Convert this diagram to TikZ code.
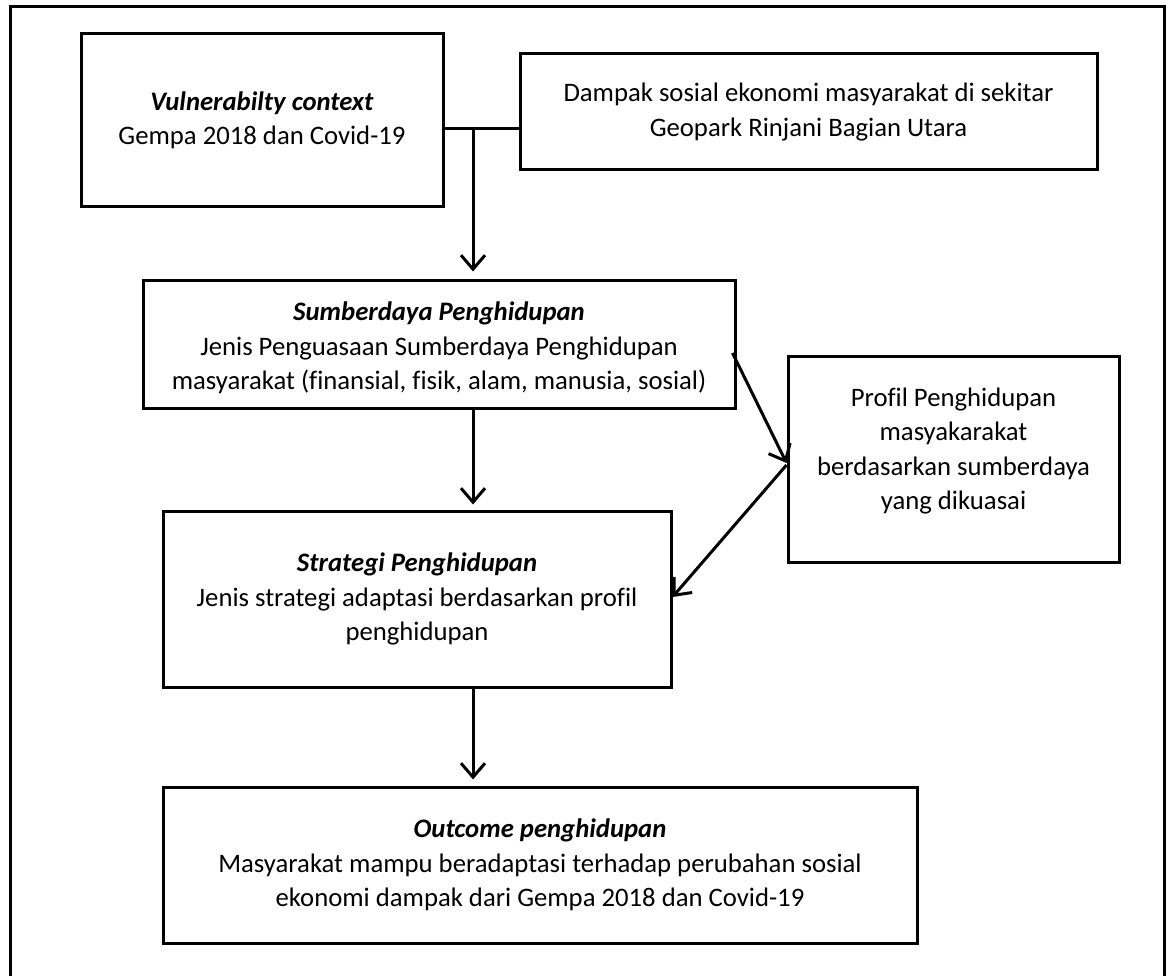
\documentclass[tikz,border=0pt]{standalone}
\usepackage{fontspec}
\setmainfont{Carlito}[Ligatures={NoCommon}]
\usetikzlibrary{arrows.meta}
\begin{document}
\begin{tikzpicture}[x=1pt,y=-1pt,
  box/.style={draw,line width=3pt,inner sep=0pt},
  txt/.style={align=center,inner sep=0pt,font=\fontsize{26.7}{34.5}\selectfont},
  arr/.style={line width=3pt,-{Straight Barb[length=14pt,width=24pt,line width=3pt]}},
  conn/.style={line width=3pt}]
\useasboundingbox (0,0) rectangle (1166,976);
\draw[line width=3pt] (10,976) -- (10,7) -- (1164,7) -- (1164,976);
\node[box,minimum width=362pt,minimum height=173pt] (b1) at (262,120.5) {};
\node[box,minimum width=577pt,minimum height=116pt] (b2) at (808.5,112) {};
\node[box,minimum width=592pt,minimum height=128pt] (b3) at (439,344) {};
\node[box,minimum width=331pt,minimum height=206pt] (b4) at (953.5,459) {};
\node[box,minimum width=508pt,minimum height=176pt] (b5) at (417,599) {};
\node[box,minimum width=754pt,minimum height=156pt] (b6) at (540,865) {};
\node[txt] (t1) at (b1.center)
  {\textbf{\textit{Vulnerabilty context}}\\Gempa 2018 dan Covid-19};
\node[txt] (t2) at (b2.center)
  {Dampak sosial ekonomi masyarakat di sekitar\\Geopark Rinjani Bagian Utara};
\node[txt] (t3) at ([yshift=-4pt]b3.center)
  {\textbf{\textit{Sumberdaya Penghidupan}}\\Jenis Penguasaan Sumberdaya Penghidupan\\masyarakat (finansial, fisik, alam, manusia, sosial)};
\node[txt] (t4) at ([yshift=8pt]b4.center)
  {Profil Penghidupan\\masyakarakat\\berdasarkan sumberdaya\\yang dikuasai};
\node[txt] (t5) at (b5.center)
  {\textbf{\textit{Strategi Penghidupan}}\\Jenis strategi adaptasi berdasarkan profil\\penghidupan};
\node[txt] (t6) at (b6.center)
  {\textbf{\textit{Outcome penghidupan}}\\Masyarakat mampu beradaptasi terhadap perubahan sosial\\ekonomi dampak dari Gempa 2018 dan Covid-19};
\coordinate (j) at (473,129);
\draw[conn] (b1.east |- j) -- (b2.west |- j);
\draw[arr,shorten >=7pt] (j) -- (b3.north -| j);
\draw[arr,shorten >=5pt] (b3.south -| j) -- (b5.north -| j);
\draw[arr,shorten >=6pt] (b5.south -| j) -- (b6.north -| j);
\draw[arr] ([shift={(-4pt,-9pt)}]b3.east |- 0,344) -- (b4.west |- 0,463);
\draw[arr] (b4.west |- 0,465) -- (b5.east |- 0,597);
\end{tikzpicture}
\end{document}
